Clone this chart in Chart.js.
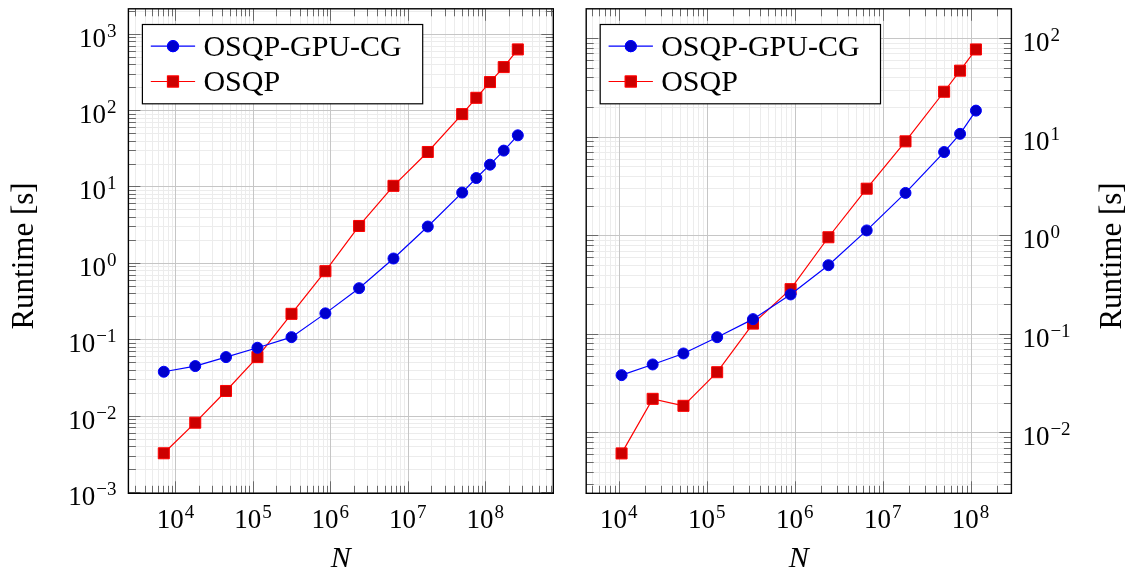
<!DOCTYPE html>
<html><head><meta charset="utf-8">
<script src="https://cdn.jsdelivr.net/npm/chart.js@4/dist/chart.umd.min.js"></script>
<style>
html,body{margin:0;padding:0;background:#fff;}
#wrap{position:relative;width:1134px;height:573px;overflow:hidden;background:#fff;}
canvas{position:absolute;top:0;}
</style></head><body>
<div id="wrap">
<canvas id="c1" width="567" height="573" style="left:0px"></canvas>
<canvas id="c2" width="567" height="573" style="left:567px"></canvas>
</div>
<script>
// ---------- data ----------
const seriesNames = ['OSQP-GPU-CG', 'OSQP'];
const leftN   = [7079, 18030, 44980, 114500, 315000, 863000, 2.35e6, 6.53e6, 1.81e7, 5.03e7, 7.66e7, 1.15e8, 1.73e8, 2.63e8];
const leftGpu = [0.0375, 0.0445, 0.0583, 0.0773, 0.1065, 0.218, 0.466, 1.14, 2.99, 8.32, 12.9, 19.3, 29.5, 46.8];
const leftCpu = [0.00321, 0.00807, 0.0210, 0.0583, 0.215, 0.778, 3.04, 10.2, 28.3, 88.7, 145, 233, 366, 624];
const rightN   = [10770, 24300, 54400, 131500, 336000, 899000, 2.42e6, 6.59e6, 1.82e7, 5.0e7, 7.59e7, 1.15e8];
const rightGpu = [0.0381, 0.0489, 0.0632, 0.0925, 0.141, 0.251, 0.497, 1.12, 2.69, 6.99, 10.7, 18.4];
const rightCpu = [0.00612, 0.0219, 0.0186, 0.0408, 0.127, 0.284, 0.955, 2.97, 8.98, 28.6, 46.8, 76.8];
const leftXRange  = [2472, 7.55e8];
const leftYRange  = [9.6e-4, 2123];
const rightXRange = [4266, 2.91e8];
const rightYRange = [0.00241, 198.6];
const xTickExps      = [4, 5, 6, 7, 8];
const leftYTickExps  = [-3, -2, -1, 0, 1, 2, 3];
const rightYTickExps = [-2, -1, 0, 1, 2];
const xTitle = 'N';
const yTitle = 'Runtime [s]';

// ---------- styling ----------
const FONT = '"Liberation Serif", "Times New Roman", serif';
const BASE_FONT = '27px ' + FONT;
const EXP_FONT = '19px ' + FONT;
const LEGEND_FONT = '30px ' + FONT;
const TITLE_FONT = '31px ' + FONT;
const NTITLE_FONT = 'italic 30px ' + FONT;
const BLUE = '#0000ff', BLUE_FILL = '#0000cc', RED = '#ff0000', RED_FILL = '#cc0000';

function gridVals(min, max) {
  const out = [];
  for (let e = Math.floor(Math.log10(min)); e <= Math.ceil(Math.log10(max)); e++) {
    for (let m = 1; m <= 9; m++) {
      const v = m * Math.pow(10, e);
      if (v >= min * 0.999999 && v <= max * 1.000001) out.push({v, major: m === 1});
    }
  }
  return out;
}
function expStr(e) { return e < 0 ? '\u2212' + (-e) : String(e); }

function drawPower(ctx, e, x, yBase, align) {
  ctx.font = BASE_FONT;
  const w1 = ctx.measureText('10').width;
  ctx.font = EXP_FONT;
  const es = expStr(e);
  const w2 = ctx.measureText(es).width;
  const gap = 1;
  const total = w1 + gap + w2;
  let x0;
  if (align === 'center') x0 = x - total / 2;
  else if (align === 'right') x0 = x - total;
  else x0 = x;
  ctx.textAlign = 'left';
  ctx.textBaseline = 'alphabetic';
  ctx.fillStyle = '#000';
  ctx.font = BASE_FONT;
  ctx.fillText('10', x0, yBase);
  ctx.font = EXP_FONT;
  ctx.fillText(es, x0 + w1 + gap, yBase - 10);
}

const panelPlugin = {
  id: 'panel',
  beforeDatasetsDraw(chart, args, opts) {
    const {ctx, chartArea: a} = chart;
    const xs = chart.scales.x, ys = chart.scales.y;
    ctx.save();
    ctx.lineWidth = 1;
    const xv = gridVals(xs.min, xs.max), yv = gridVals(ys.min, ys.max);
    for (const pass of [false, true]) {
      ctx.strokeStyle = pass ? '#c6c6c6' : '#ececec';
      ctx.beginPath();
      for (const t of xv) {
        if (t.major !== pass) continue;
        const px = Math.round(xs.getPixelForValue(t.v)) + 0.5;
        ctx.moveTo(px, a.top); ctx.lineTo(px, a.bottom);
      }
      for (const t of yv) {
        if (t.major !== pass) continue;
        const py = Math.round(ys.getPixelForValue(t.v)) + 0.5;
        ctx.moveTo(a.left, py); ctx.lineTo(a.right, py);
      }
      ctx.stroke();
    }
    ctx.restore();
  },
  afterDatasetsDraw(chart, args, opts) {
    const {ctx, chartArea: a} = chart;
    const xs = chart.scales.x, ys = chart.scales.y;
    ctx.save();
    // tick marks on all four sides
    ctx.lineWidth = 1;
    ctx.strokeStyle = '#6a6a6a';
    ctx.beginPath();
    for (const t of gridVals(xs.min, xs.max)) {
      const len = t.major ? 12 : 7.5;
      const px = Math.round(xs.getPixelForValue(t.v)) + 0.5;
      ctx.moveTo(px, a.bottom); ctx.lineTo(px, a.bottom - len);
      ctx.moveTo(px, a.top); ctx.lineTo(px, a.top + len);
    }
    for (const t of gridVals(ys.min, ys.max)) {
      const len = t.major ? 12 : 7.5;
      const py = Math.round(ys.getPixelForValue(t.v)) + 0.5;
      ctx.moveTo(a.left, py); ctx.lineTo(a.left + len, py);
      ctx.moveTo(a.right, py); ctx.lineTo(a.right - len, py);
    }
    ctx.stroke();
    // frame
    ctx.lineWidth = 1.4;
    ctx.strokeStyle = '#000';
    ctx.strokeRect(a.left, a.top, a.right - a.left, a.bottom - a.top);

    // tick labels
    for (const e of opts.xExps) {
      const px = xs.getPixelForValue(Math.pow(10, e));
      drawPower(ctx, e, px, a.bottom + 35, 'center');
    }
    for (const e of opts.yExps) {
      const py = ys.getPixelForValue(Math.pow(10, e));
      if (opts.side === 'left') drawPower(ctx, e, a.left - 12, py + 13, 'right');
      else drawPower(ctx, e, a.right + 11, py + 13, 'left');
    }
    // axis titles
    ctx.fillStyle = '#000';
    ctx.font = NTITLE_FONT;
    ctx.textAlign = 'center';
    ctx.textBaseline = 'alphabetic';
    ctx.fillText(xTitle, (a.left + a.right) / 2, a.bottom + 74);
    ctx.save();
    const tx = opts.side === 'left' ? a.left - 95.5 : a.right + 109.5;
    ctx.translate(tx, 256);
    ctx.rotate(-Math.PI / 2);
    ctx.font = TITLE_FONT;
    ctx.textAlign = 'center';
    ctx.fillText(yTitle, 0, 0);
    ctx.restore();

    // legend
    const lx = a.left + 14, ly = a.top + 15.7, lw = 280.3, lh = 79.3;
    ctx.fillStyle = '#fff';
    ctx.fillRect(lx, ly, lw, lh);
    ctx.lineWidth = 1.2;
    ctx.strokeStyle = '#000';
    ctx.strokeRect(lx, ly, lw, lh);
    chart.data.datasets.forEach((ds, i) => {
      const cy = ly + 21.7 + i * 35.3;
      ctx.strokeStyle = ds.borderColor;
      ctx.lineWidth = ds.borderWidth;
      ctx.beginPath();
      ctx.moveTo(lx + 8.4, cy); ctx.lineTo(lx + 52.7, cy);
      ctx.stroke();
      Chart.helpers.drawPoint(ctx, {
        pointStyle: ds.pointStyle, radius: ds.pointRadius, rotation: 0, borderWidth: ds.pointBorderWidth
      }, lx + 30.6, cy);
      ctx.fillStyle = ds.pointBackgroundColor;
      ctx.strokeStyle = ds.pointBorderColor;
      ctx.lineWidth = ds.pointBorderWidth;
      ctx.beginPath();
      if (ds.pointStyle === 'circle') {
        ctx.arc(lx + 30.6, cy, ds.pointRadius, 0, Math.PI * 2);
      } else {
        const s = ds.pointRadius * Math.SQRT1_2;
        ctx.rect(lx + 30.6 - s, cy - s, 2 * s, 2 * s);
      }
      ctx.fill(); ctx.stroke();
      ctx.fillStyle = '#000';
      ctx.font = LEGEND_FONT;
      ctx.textAlign = 'left';
      ctx.textBaseline = 'alphabetic';
      ctx.fillText(ds.label, lx + 61, cy + 9.5);
    });
    ctx.restore();
  }
};

function makeDatasets(N, gpu, cpu) {
  return [
    {
      label: seriesNames[0],
      data: N.map((n, i) => ({x: n, y: gpu[i]})),
      borderColor: BLUE, backgroundColor: BLUE_FILL, borderWidth: 1.2,
      pointStyle: 'circle', pointRadius: 5.5, pointBorderWidth: 1,
      pointBackgroundColor: BLUE_FILL, pointBorderColor: BLUE,
      tension: 0, fill: false, clip: false
    },
    {
      label: seriesNames[1],
      data: N.map((n, i) => ({x: n, y: cpu[i]})),
      borderColor: RED, backgroundColor: RED_FILL, borderWidth: 1.2,
      pointStyle: 'rect', pointRadius: 7.8, pointBorderWidth: 1,
      pointBackgroundColor: RED_FILL, pointBorderColor: RED,
      tension: 0, fill: false, clip: false
    }
  ];
}

function makeChart(id, N, gpu, cpu, xr, yr, yExps, side, padding) {
  return new Chart(document.getElementById(id), {
    type: 'line',
    data: {datasets: makeDatasets(N, gpu, cpu)},
    options: {
      responsive: false, animation: false, devicePixelRatio: 1,
      layout: {padding},
      scales: {
        x: {type: 'logarithmic', min: xr[0], max: xr[1], display: false},
        y: {type: 'logarithmic', min: yr[0], max: yr[1], display: false}
      },
      plugins: {
        legend: {display: false}, tooltip: {enabled: false},
        panel: {xExps: xTickExps, yExps, side}
      }
    },
    plugins: [panelPlugin]
  });
}

makeChart('c1', leftN, leftGpu, leftCpu, leftXRange, leftYRange, leftYTickExps, 'left',
  {left: 128.4, right: 13.7, top: 8.3, bottom: 79.7});
makeChart('c2', rightN, rightGpu, rightCpu, rightXRange, rightYRange, rightYTickExps, 'right',
  {left: 19.2, right: 122.6, top: 8.3, bottom: 79.7});
</script>
</body></html>
